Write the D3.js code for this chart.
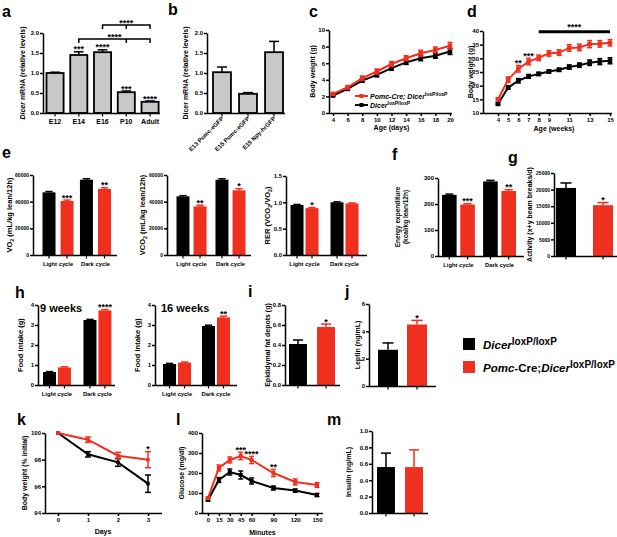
<!DOCTYPE html>
<html>
<head>
<meta charset="utf-8">
<script src="https://cdn.jsdelivr.net/npm/d3@7"></script>
<style>
  body { margin: 0; background: #fff; }
  svg { font-family: "Liberation Sans", Arial, sans-serif; font-weight: bold; }
  .axis path, .axis line { stroke: #000; stroke-width: 1.5; }
  .axis text { font-family: "Liberation Sans", Arial, sans-serif; font-weight: bold; font-size: 6px; fill: #000; }
  .axis.small text { font-size: 5px; }
</style>
</head>
<body>
<div id="chart"></div>
<script>
var RED = "#f0301f", BLACK = "#000000", GREY = "#c8c8c8";

// a - Dicer mRNA through development
var aCats = ["E12", "E14", "E16", "P10", "Adult"];
var aVals = [1.0, 1.45, 1.52, 0.52, 0.28];
var aErr = [0.02, 0.08, 0.06, 0.03, 0.02];
var aStars = ["", "***", "****", "***", "****"];
var aBrackets = [
  {from: "E14", mid: "P10", to: "Adult", level: 1.85, label: "****"},
  {from: "E16", mid: "P10", to: "Adult", level: 2.2, label: "****"}
];

// b - sorted neurons
var bCats = ["E13 Pomc-eGFP", "E15 Pomc-eGFP", "E15 Npy-hrGFP"];
var bVals = [1.02, 0.48, 1.52];
var bErr = [0.13, 0.03, 0.27];

// c - body weight, days
var cDays = [4, 6, 8, 10, 12, 14, 16, 18, 20];
var cCtrl = [2.1, 2.9, 3.9, 4.6, 5.4, 6.1, 6.6, 6.9, 7.4];
var cCtrlErr = [0.1, 0.15, 0.2, 0.25, 0.25, 0.25, 0.3, 0.3, 0.35];
var cKo = [2.3, 3.1, 4.2, 5.0, 5.9, 6.6, 7.2, 7.6, 8.1];
var cKoErr = [0.15, 0.2, 0.25, 0.3, 0.3, 0.3, 0.35, 0.35, 0.4];

// d - body weight, weeks
var dWeeks = [4, 5, 6, 7, 8, 9, 10, 11, 12, 13, 14, 15];
var dTicks = [4, 5, 6, 7, 8, 9, 11, 13, 15];
var dCtrl = [13.3, 19.3, 21.8, 23.4, 24.3, 25.2, 25.8, 26.8, 27.5, 28.4, 28.8, 29.1];
var dCtrlErr = [0.4, 0.6, 0.8, 0.7, 0.6, 0.6, 0.6, 0.8, 0.8, 1.0, 1.1, 1.1];
var dKo = [15.0, 22.2, 26.2, 28.8, 30.2, 31.8, 32.1, 33.8, 34.0, 35.2, 35.3, 35.7];
var dKoErr = [0.5, 1.0, 1.2, 1.2, 1.0, 1.0, 1.0, 1.2, 1.2, 1.3, 1.2, 1.2];
var dStars = [{x: 6, t: "**"}, {x: 7, t: "***"}];
var dSpan = {from: 8, to: 15, level: 39.7, label: "****"};

// e, f - indirect calorimetry
var cycles = ["Light cycle", "Dark cycle"];
var vo2Ctrl = [47000, 56500], vo2CtrlErr = [600, 700];
var vo2Ko = [40500, 49500], vo2KoErr = [700, 900];
var vo2Stars = ["***", "**"];
var vco2Ctrl = [44000, 56500], vco2CtrlErr = [500, 700];
var vco2Ko = [36500, 48500], vco2KoErr = [800, 1200];
var vco2Stars = ["**", "*"];
var rerCtrl = [0.95, 1.0], rerCtrlErr = [0.01, 0.01];
var rerKo = [0.89, 0.98], rerKoErr = [0.01, 0.01];
var rerStars = ["*", ""];
var eeCtrl = [235, 287], eeCtrlErr = [3, 4];
var eeKo = [198, 250], eeKoErr = [3, 5];
var eeStars = ["***", "**"];

// g - activity
var actVals = [20500, 15300], actErr = [1500, 800], actStars = ["", "*"];

// h - food intake
var fi9Ctrl = [0.65, 3.25], fi9CtrlErr = [0.02, 0.03];
var fi9Ko = [0.88, 3.73], fi9KoErr = [0.03, 0.04];
var fi9Stars = ["", "****"];
var fi16Ctrl = [1.05, 2.95], fi16CtrlErr = [0.03, 0.04];
var fi16Ko = [1.12, 3.38], fi16KoErr = [0.03, 0.06];
var fi16Stars = ["", "**"];

// i, j, m
var fatVals = [0.41, 0.58], fatErr = [0.04, 0.03], fatStars = ["", "*"];
var lepVals = [2.65, 4.5], lepErr = [0.5, 0.3], lepStars = ["", "*"];
var insVals = [0.56, 0.56], insErr = [0.17, 0.21];

// k - fasting
var kDays = [0, 1, 2, 3];
var kCtrl = [100, 98.4, 97.8, 96.2], kCtrlErr = [0, 0.2, 0.3, 0.65];
var kKo = [100, 99.5, 98.3, 98.0], kKoErr = [0, 0.2, 0.25, 0.6];
var kStars = [{x: 3, t: "*"}];

// l - glucose tolerance
var lMin = [0, 15, 30, 45, 60, 90, 120, 150];
var lCtrl = [65, 165, 205, 190, 160, 125, 112, 90];
var lCtrlErr = [5, 12, 15, 20, 15, 10, 8, 8];
var lKo = [75, 225, 265, 285, 265, 200, 155, 140];
var lKoErr = [5, 15, 15, 18, 18, 18, 15, 12];
var lStars = [{x: 45, t: "***"}, {x: 60, t: "****"}, {x: 90, t: "**"}];

var svg = d3.select("#chart").append("svg")
    .attr("width", 617)
    .attr("height", 537);

function panelLabel(t, x, y) {
  svg.append("text").attr("x", x).attr("y", y).attr("font-size", 16).text(t);
}

// rotated axis title, parts can be strings or {t, i, sub, sup}
function addTitle(g, x, yMid, parts, size) {
  var t = g.append("text")
    .attr("transform", "translate(" + x + "," + yMid + ") rotate(-90)")
    .attr("text-anchor", "middle")
    .attr("dy", "0.35em")
    .attr("font-size", size || 7);
  var shift = 0;
  parts.forEach(function(p) {
    if (typeof p === "string") p = {t: p};
    var ts = t.append("tspan").text(p.t);
    var want = p.sub ? 2 : (p.sup ? -3 : 0);
    if (want !== shift) { ts.attr("dy", want - shift); shift = want; }
    if (p.i) ts.attr("font-style", "italic");
    if (p.sub || p.sup) ts.attr("font-size", "0.7em");
  });
  return t;
}

function twoSeries(ctrl, ctrlErr, ko, koErr, stars) {
  return [
    {key: "ctrl", vals: ctrl, errs: ctrlErr, fill: BLACK},
    {key: "ko", vals: ko, errs: koErr, stars: stars, fill: RED}
  ];
}

function barPanel(p) {
  var g = svg.append("g");
  var y = d3.scaleLinear().domain([0, p.yMax]).range([p.bottom, p.top]);
  var x0 = d3.scaleBand().domain(p.groups).range(p.band).paddingInner(p.pad || 0);
  var x1 = d3.scaleBand().domain(p.series.map(function(s) { return s.key; }))
    .range([0, x0.bandwidth()]).paddingInner(p.inner || 0);
  var bw = x1.bandwidth();

  var bars = [];
  p.series.forEach(function(s) {
    p.groups.forEach(function(grp, i) {
      bars.push({grp: grp, key: s.key, v: s.vals[i], e: s.errs[i],
        star: s.stars ? s.stars[i] : "", fill: s.fill,
        stroke: s.stroke || "none", ecol: s.ecol || s.fill});
    });
  });
  var cx = function(d) { return x0(d.grp) + x1(d.key) + bw / 2; };
  var top = function(d) { return y(d.v + d.e); };

  var eb = g.selectAll(".err").data(bars).enter().append("g")
    .attr("stroke", function(d) { return d.ecol; })
    .attr("stroke-width", 1.5);
  eb.append("line")
    .attr("x1", cx).attr("x2", cx)
    .attr("y1", function(d) { return y(d.v); })
    .attr("y2", top);
  eb.append("line")
    .attr("x1", function(d) { return cx(d) - bw * 0.28; })
    .attr("x2", function(d) { return cx(d) + bw * 0.28; })
    .attr("y1", top).attr("y2", top);

  g.selectAll(".bar").data(bars).enter().append("rect")
    .attr("x", function(d) { return x0(d.grp) + x1(d.key); })
    .attr("y", function(d) { return y(d.v); })
    .attr("width", bw)
    .attr("height", function(d) { return y(0) - y(d.v); })
    .attr("fill", function(d) { return d.fill; })
    .attr("stroke", function(d) { return d.stroke; })
    .attr("stroke-width", 1.8);

  g.selectAll(".star").data(bars.filter(function(d) { return d.star; })).enter().append("text")
    .attr("x", cx)
    .attr("y", function(d) { return top(d) + 0.5; })
    .attr("text-anchor", "middle")
    .attr("font-size", 9)
    .text(function(d) { return d.star; });

  g.append("g").attr("class", p.smallTicks ? "axis small" : "axis")
    .attr("transform", "translate(" + p.left + ",0)")
    .call(d3.axisLeft(y).tickValues(p.yTicks).tickFormat(p.fmt || d3.format("d"))
      .tickSize(3).tickSizeOuter(0).tickPadding(1));

  g.append("line")
    .attr("x1", p.left).attr("x2", p.right)
    .attr("y1", p.bottom + 0.5).attr("y2", p.bottom + 0.5)
    .attr("stroke", "#000").attr("stroke-width", 1.6);
  g.selectAll(".xt").data(bars).enter().append("line")
    .attr("x1", cx).attr("x2", cx)
    .attr("y1", p.bottom).attr("y2", p.bottom + 3.5)
    .attr("stroke", "#000").attr("stroke-width", 1.2);

  if (p.labels === "flat") {
    g.selectAll(".xl").data(p.groups).enter().append("text")
      .attr("x", function(d) { return x0(d) + x0.bandwidth() / 2; })
      .attr("y", p.bottom + 11)
      .attr("text-anchor", "middle")
      .attr("font-size", p.labelSize || 5.8)
      .text(function(d) { return d; });
  } else if (p.labels === "rot") {
    g.selectAll(".xl").data(p.groups).enter().append("text")
      .attr("transform", function(d) {
        return "translate(" + (x0(d) + x0.bandwidth() / 2 + 2) + "," + (p.bottom + 6) + ") rotate(-45)";
      })
      .attr("text-anchor", "end")
      .attr("font-size", 6)
      .text(function(d) { return d; });
  }

  if (p.title) addTitle(g, p.titleX, (p.top + p.bottom) / 2, p.title, p.titleSize);
  return {g: g, x0: x0, y: y};
}

function linePanel(p) {
  var g = svg.append("g");
  var x = d3.scaleLinear().domain(p.xDomain).range(p.xRange);
  var y = d3.scaleLinear().domain(p.yDomain).range(p.yRange);

  g.append("g").attr("class", "axis")
    .attr("transform", "translate(" + p.left + ",0)")
    .call(d3.axisLeft(y).tickValues(p.yTicks).tickFormat(d3.format("d"))
      .tickSize(3).tickSizeOuter(0).tickPadding(1));
  var xa = g.append("g").attr("class", "axis")
    .attr("transform", "translate(0," + p.yRange[0] + ")")
    .call(d3.axisBottom(x).tickValues(p.xTicks).tickFormat(d3.format("d"))
      .tickSize(3).tickSizeOuter(0).tickPadding(1.5));
  xa.select(".domain").attr("d", "M" + p.left + ",0.5H" + p.right);

  var line = d3.line()
    .x(function(d) { return x(d.x); })
    .y(function(d) { return y(d.y); });

  p.series.forEach(function(s) {
    var pts = s.xs.map(function(v, i) { return {x: v, y: s.ys[i], e: s.errs[i]}; });
    g.append("path").datum(pts)
      .attr("d", line)
      .attr("fill", "none")
      .attr("stroke", s.color)
      .attr("stroke-width", 2);
    var eb = g.append("g").attr("stroke", s.color).attr("stroke-width", 1.5)
      .selectAll("g").data(pts.filter(function(d) { return d.e > 0; })).enter().append("g");
    eb.append("line")
      .attr("x1", function(d) { return x(d.x); }).attr("x2", function(d) { return x(d.x); })
      .attr("y1", function(d) { return y(d.y - d.e); }).attr("y2", function(d) { return y(d.y + d.e); });
    [-1, 1].forEach(function(sgn) {
      eb.append("line")
        .attr("x1", function(d) { return x(d.x) - p.cap; }).attr("x2", function(d) { return x(d.x) + p.cap; })
        .attr("y1", function(d) { return y(d.y + sgn * d.e); }).attr("y2", function(d) { return y(d.y + sgn * d.e); });
    });
    g.selectAll(null).data(pts).enter().append("rect")
      .attr("x", function(d) { return x(d.x) - p.mark / 2; })
      .attr("y", function(d) { return y(d.y) - p.mark / 2; })
      .attr("width", p.mark).attr("height", p.mark)
      .attr("fill", s.color);
  });

  if (p.stars) {
    var ref = p.series[p.series.length - 1];
    g.selectAll(".star").data(p.stars).enter().append("text")
      .attr("x", function(d) { return x(d.x); })
      .attr("y", function(d) {
        var i = ref.xs.indexOf(d.x);
        return y(ref.ys[i] + ref.errs[i]) + 0.5;
      })
      .attr("text-anchor", "middle")
      .attr("font-size", 9)
      .text(function(d) { return d.t; });
  }

  g.append("text")
    .attr("x", (p.xRange[0] + p.xRange[1]) / 2)
    .attr("y", p.xTitleY)
    .attr("text-anchor", "middle")
    .attr("font-size", 7)
    .text(p.xTitle);
  addTitle(g, p.titleX, (p.yRange[0] + p.yRange[1]) / 2, p.title);
  return {g: g, x: x, y: y};
}

// ---------- a
panelLabel("a", 2, 17);
var pa = barPanel({left: 43, right: 160, top: 33, bottom: 113, yMax: 2,
  yTicks: [0, 0.5, 1, 1.5, 2], fmt: d3.format(".1f"),
  groups: aCats, band: [46.5, 158.6], pad: 0.28,
  series: [{key: "a", vals: aVals, errs: aErr, stars: aStars, fill: GREY, stroke: BLACK, ecol: BLACK}],
  labels: "flat", labelSize: 7,
  title: [{t: "Dicer", i: 1}, " mRNA (relative levels)"], titleX: 23});
aBrackets.forEach(function(b) {
  var cxs = [b.from, b.mid, b.to].map(function(c) { return pa.x0(c) + pa.x0.bandwidth() / 2; });
  var yy = pa.y(b.level);
  pa.g.append("path")
    .attr("d", "M" + cxs[0] + "," + (yy + 4) + "V" + yy + "H" + cxs[2] + "V" + (yy + 4) +
      "M" + cxs[1] + "," + yy + "V" + (yy + 4))
    .attr("fill", "none").attr("stroke", "#000").attr("stroke-width", 1.5);
  pa.g.append("text")
    .attr("x", (cxs[0] + cxs[2]) / 2).attr("y", yy + 0.5)
    .attr("text-anchor", "middle").attr("font-size", 9)
    .text(b.label);
});

// ---------- b
panelLabel("b", 168, 15);
barPanel({left: 207, right: 285, top: 33, bottom: 113, yMax: 2,
  yTicks: [0, 0.5, 1, 1.5, 2], fmt: d3.format(".1f"),
  groups: bCats, band: [213, 283], pad: 0.31,
  series: [{key: "b", vals: bVals, errs: bErr, fill: GREY, stroke: BLACK, ecol: BLACK}],
  labels: "rot", title: ["Dicer mRNA (relative levels)"], titleX: 186});

// ---------- c
panelLabel("c", 309, 17);
var pc = linePanel({left: 329, right: 452, xDomain: [4, 20], xRange: [333, 450],
  yDomain: [0, 10], yRange: [113, 30], xTicks: cDays, yTicks: [0, 2, 4, 6, 8, 10],
  cap: 2.5, mark: 4.5,
  series: [
    {xs: cDays, ys: cCtrl, errs: cCtrlErr, color: BLACK},
    {xs: cDays, ys: cKo, errs: cKoErr, color: RED}
  ],
  xTitle: "Age (days)", xTitleY: 130, title: ["Body weight (g)"], titleX: 313});

var cLegend = [
  {color: RED, parts: [{t: "Pomc", i: 1}, {t: "-Cre; ", i: 1}, {t: "Dicer", i: 1}, {t: "loxP/loxP", sup: 1}]},
  {color: BLACK, parts: [{t: "Dicer", i: 1}, {t: "loxP/loxP", sup: 1}]}
];
var cl = pc.g.selectAll(".cleg").data(cLegend).enter().append("g")
  .attr("transform", function(d, i) { return "translate(355," + (96 + i * 9) + ")"; });
cl.append("line").attr("x1", 0).attr("x2", 13).attr("y1", 0).attr("y2", 0)
  .attr("stroke", function(d) { return d.color; }).attr("stroke-width", 2);
cl.append("rect").attr("x", 4.5).attr("y", -2).attr("width", 4).attr("height", 4)
  .attr("fill", function(d) { return d.color; });
cl.append("text").attr("x", 15).attr("y", 2.5).attr("font-size", 7)
  .each(function(d) {
    var t = d3.select(this);
    d.parts.forEach(function(p) {
      var ts = t.append("tspan").text(p.t);
      if (p.i) ts.attr("font-style", "italic");
      if (p.sup) ts.attr("font-size", 5).attr("dy", -2.5);
    });
  });

// ---------- d
panelLabel("d", 467, 17);
var pd = linePanel({left: 483, right: 612, xDomain: [4, 15], xRange: [498, 610],
  yDomain: [10, 40], yRange: [113, 31], xTicks: dTicks, yTicks: [10, 15, 20, 25, 30, 35, 40],
  cap: 2.5, mark: 4.5,
  series: [
    {xs: dWeeks, ys: dCtrl, errs: dCtrlErr, color: BLACK},
    {xs: dWeeks, ys: dKo, errs: dKoErr, color: RED}
  ],
  stars: dStars,
  xTitle: "Age (weeks)", xTitleY: 131, title: ["Body weight (g)"], titleX: 471});
pd.g.append("line")
  .attr("x1", pd.x(dSpan.from)).attr("x2", pd.x(dSpan.to))
  .attr("y1", pd.y(dSpan.level)).attr("y2", pd.y(dSpan.level))
  .attr("stroke", "#000").attr("stroke-width", 3);
pd.g.append("text")
  .attr("x", (pd.x(dSpan.from) + pd.x(dSpan.to)) / 2).attr("y", pd.y(dSpan.level) - 2)
  .attr("text-anchor", "middle").attr("font-size", 9).text(dSpan.label);

// ---------- e
panelLabel("e", 2, 158);
barPanel({left: 33, right: 117, top: 175, bottom: 255, yMax: 60000, smallTicks: true,
  yTicks: [0, 20000, 40000, 60000], groups: cycles, band: [42.5, 111], pad: 0.17, inner: 0.28,
  series: twoSeries(vo2Ctrl, vo2CtrlErr, vo2Ko, vo2KoErr, vo2Stars), labels: "flat",
  title: ["VO", {t: "2", sub: 1}, " (mL/kg lean/12h)"], titleX: 9, titleSize: 7.5});
barPanel({left: 167, right: 251, top: 175, bottom: 255, yMax: 60000, smallTicks: true,
  yTicks: [0, 20000, 40000, 60000], groups: cycles, band: [176.5, 245.5], pad: 0.23, inner: 0.24,
  series: twoSeries(vco2Ctrl, vco2CtrlErr, vco2Ko, vco2KoErr, vco2Stars), labels: "flat",
  title: ["VCO", {t: "2", sub: 1}, " (mL/kg lean/12h)"], titleX: 142, titleSize: 7.5});
barPanel({left: 286, right: 367, top: 176, bottom: 255, yMax: 1.5,
  yTicks: [0, 0.5, 1, 1.5], fmt: d3.format(".1f"), groups: cycles, band: [290.5, 358.5], pad: 0.3, inner: 0.13,
  series: twoSeries(rerCtrl, rerCtrlErr, rerKo, rerKoErr, rerStars), labels: "flat",
  title: ["RER (VCO", {t: "2", sub: 1}, "/VO", {t: "2", sub: 1}, ")"], titleX: 267, titleSize: 7.5});

// ---------- f
panelLabel("f", 392, 160);
var pf = barPanel({left: 438, right: 524, top: 178, bottom: 256, yMax: 300,
  yTicks: [0, 100, 200, 300], groups: cycles, band: [442, 516], pad: 0.2, inner: 0.2,
  series: twoSeries(eeCtrl, eeCtrlErr, eeKo, eeKoErr, eeStars), labels: "flat"});
addTitle(pf.g, 398, 217, ["Energy expenditure"], 6.5);
addTitle(pf.g, 406, 217, ["(kcal/kg lean/12h)"], 6.5);

// ---------- g
panelLabel("g", 508, 163);
barPanel({left: 554, right: 617, top: 173, bottom: 256, yMax: 25000, smallTicks: true,
  yTicks: [0, 5000, 10000, 15000, 20000, 25000], groups: [""], band: [556, 613], inner: 0.46,
  series: twoSeries([actVals[0]], [actErr[0]], [actVals[1]], [actErr[1]], [actStars[1]]),
  title: ["Activity (x+y beam breaks/d)"], titleX: 530});

// ---------- h
panelLabel("h", 15, 298);
var ph1 = barPanel({left: 38, right: 115, top: 305, bottom: 385, yMax: 4,
  yTicks: [0, 1, 2, 3, 4], groups: cycles, band: [43, 111.4], pad: 0.31, inner: 0.13,
  series: twoSeries(fi9Ctrl, fi9CtrlErr, fi9Ko, fi9KoErr, fi9Stars), labels: "flat",
  title: ["Food intake (g)"], titleX: 20, titleSize: 7.5});
ph1.g.append("text").attr("x", 40).attr("y", 312).attr("font-size", 11).text("9 weeks");
var ph2 = barPanel({left: 155, right: 237, top: 305, bottom: 385, yMax: 4,
  yTicks: [0, 1, 2, 3, 4], groups: cycles, band: [163, 230], pad: 0.28, inner: 0.13,
  series: twoSeries(fi16Ctrl, fi16CtrlErr, fi16Ko, fi16KoErr, fi16Stars), labels: "flat",
  title: ["Food intake (g)"], titleX: 137, titleSize: 7.5});
ph2.g.append("text").attr("x", 161).attr("y", 312).attr("font-size", 11).text("16 weeks");

// ---------- i
panelLabel("i", 248, 297);
barPanel({left: 285, right: 340, top: 305, bottom: 385, yMax: 0.8,
  yTicks: [0, 0.2, 0.4, 0.6, 0.8], fmt: d3.format(".1f"), groups: [""], band: [289, 335], inner: 0.36,
  series: twoSeries([fatVals[0]], [fatErr[0]], [fatVals[1]], [fatErr[1]], [fatStars[1]]),
  title: ["Epididymal fat depots (g)"], titleX: 268});

// ---------- j
panelLabel("j", 345, 297);
barPanel({left: 369, right: 436, top: 304, bottom: 386, yMax: 6,
  yTicks: [0, 2, 4, 6], groups: [""], band: [378, 427], inner: 0.31,
  series: twoSeries([lepVals[0]], [lepErr[0]], [lepVals[1]], [lepErr[1]], [lepStars[1]]),
  title: ["Leptin (ng/mL)"], titleX: 358});

// ---------- legend
var legendItems = [
  {color: BLACK, parts: [{t: "Dicer", i: 1}, {t: "loxP/loxP", sup: 1}]},
  {color: RED, parts: [{t: "Pomc", i: 1}, {t: "-Cre;"}, {t: "Dicer", i: 1}, {t: "loxP/loxP", sup: 1}]}
];
var lg = svg.selectAll(".leg").data(legendItems).enter().append("g")
  .attr("transform", function(d, i) { return "translate(463," + (338 + i * 23) + ")"; });
lg.append("rect").attr("width", 12).attr("height", 12)
  .attr("fill", function(d) { return d.color; });
lg.append("text").attr("x", 20).attr("y", 11).attr("font-size", 11.5)
  .each(function(d) {
    var t = d3.select(this);
    d.parts.forEach(function(p) {
      var ts = t.append("tspan").text(p.t);
      if (p.i) ts.attr("font-style", "italic");
      if (p.sup) ts.attr("font-size", 10).attr("dy", -4);
    });
  });

// ---------- k
panelLabel("k", 17, 425);
linePanel({left: 45, right: 162, xDomain: [0, 3], xRange: [58, 148],
  yDomain: [94, 100], yRange: [513, 433], xTicks: kDays, yTicks: [94, 96, 98, 100],
  cap: 3, mark: 3.5,
  series: [
    {xs: kDays, ys: kCtrl, errs: kCtrlErr, color: BLACK},
    {xs: kDays, ys: kKo, errs: kKoErr, color: RED}
  ],
  stars: kStars,
  xTitle: "Days", xTitleY: 534, title: ["Body weight (% initial)"], titleX: 25});

// ---------- l
panelLabel("l", 176, 425);
linePanel({left: 202, right: 323, xDomain: [0, 150], xRange: [208, 317],
  yDomain: [0, 400], yRange: [513, 433], xTicks: lMin, yTicks: [0, 100, 200, 300, 400],
  cap: 2.5, mark: 4,
  series: [
    {xs: lMin, ys: lCtrl, errs: lCtrlErr, color: BLACK},
    {xs: lMin, ys: lKo, errs: lKoErr, color: RED}
  ],
  stars: lStars,
  xTitle: "Minutes", xTitleY: 535, title: ["Glucose (mg/dl)"], titleX: 182});

// ---------- m
panelLabel("m", 327, 425);
barPanel({left: 372, right: 428, top: 431, bottom: 513, yMax: 1,
  yTicks: [0, 0.2, 0.4, 0.6, 0.8, 1], fmt: d3.format(".1f"), groups: [""], band: [377, 423], inner: 0.36,
  series: twoSeries([insVals[0]], [insErr[0]], [insVals[1]], [insErr[1]], ["", ""]),
  title: ["Insulin (ng/mL)"], titleX: 349});
</script>
</body>
</html>
